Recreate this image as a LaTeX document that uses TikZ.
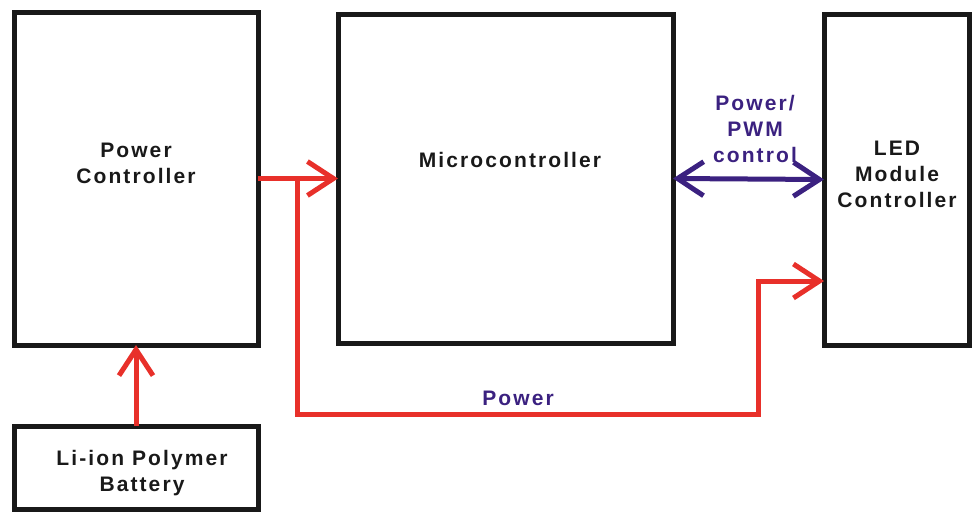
\documentclass[tikz,border=0pt]{standalone}
\usepackage{fontspec}
\setmainfont{Liberation Sans}[LetterSpace=10]
\usetikzlibrary{arrows.meta}
\definecolor{pred}{HTML}{E8302A}
\definecolor{ppur}{HTML}{3B2180}
\begin{document}
\begin{tikzpicture}[x=1pt,y=-1pt,
  box/.style={draw=black!90,line width=5pt,inner sep=0pt,outer sep=0pt},
  lbl/.style={font=\fontsize{21}{26}\selectfont\bfseries,align=center,text=black!90},
  plbl/.style={font=\fontsize{21}{26}\selectfont\bfseries,align=center,text=ppur},
  redline/.style={draw=pred,line width=5pt},
  barb/.style={-{Straight Barb[length=26pt,width=34pt]}},
  dbarb/.style={{Straight Barb[length=26pt,width=34pt]}-{Straight Barb[length=26pt,width=34pt]}}]
\useasboundingbox (0,0) rectangle (973,512);
\node[box,minimum width=244pt,minimum height=333pt] (pc) at (136,178.5) {};
\node[box,minimum width=335pt,minimum height=329pt] (mc) at (505.5,178.5) {};
\node[box,minimum width=145pt,minimum height=331pt] (led) at (896.5,179.5) {};
\node[box,minimum width=244pt,minimum height=83.5pt] (bat) at (136,467.75) {};
\node[lbl] (pct) at (136,163) {Power\\Controller};
\node[lbl] (mct) at (510,160) {Microcontroller};
\node[lbl] (ledt) at (897,174) {LED\\Module\\Controller};
\node[lbl] (batt) at (142,473) {Li-ion Polymer\\Battery};
\node[plbl] (pwm) at (755,129) {Power/\\PWM\\control};
\node[plbl] (pw) at (518,398) {Power};
\coordinate (j) at (297,178.5);
\coordinate (c1) at (758,414);
\coordinate (ledin) at (824,281);
\draw[redline,barb] (pc.east) -- (mc.west);
\draw[redline,barb] (j) |- (c1) |- (ledin);
\draw[redline,barb] (bat.north) -- (pc.south);
\draw[draw=ppur,line width=5pt,dbarb] (mc.east) -- (led.west);
\end{tikzpicture}
\end{document}
